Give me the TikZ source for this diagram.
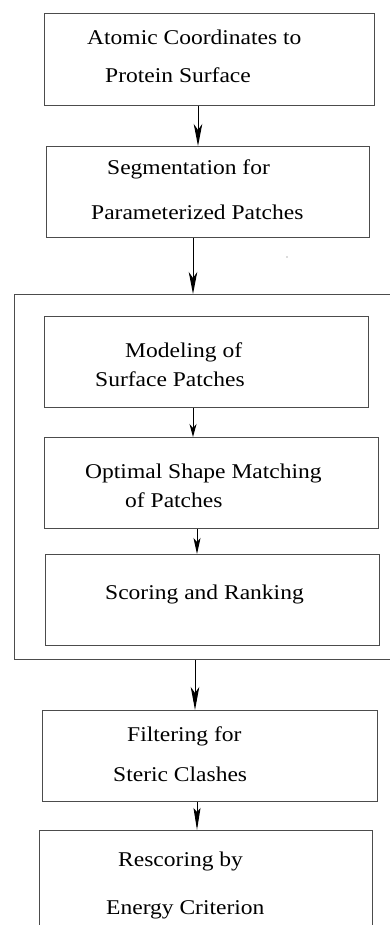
\documentclass[tikz,border=0pt]{standalone}
\usepackage{fontspec}
\setmainfont{Liberation Serif}[FakeStretch=1.12]
\usetikzlibrary{arrows.meta}
\begin{document}
\begin{tikzpicture}[x=1pt,y=-1pt,
  box/.style={draw=black!70,line width=1.1pt,inner sep=0pt,anchor=north west},
  lbl/.style={anchor=base west,inner sep=0pt,font=\fontsize{21}{25}\selectfont},
  arr/.style={draw=black,line width=1pt,-{Stealth[length=#1,width=8.5pt,inset=6pt]}},
  arrs/.style={draw=black,line width=1pt,-{Stealth[length=#1,width=7pt,inset=4pt]}}]
\useasboundingbox (0,0) rectangle (390,925);
% boxes
\node[box,minimum width=330pt,minimum height=92pt] (b1) at (44,13) {};
\node[box,minimum width=323pt,minimum height=91pt] (b2) at (46,146) {};
\node[box,minimum width=381pt,minimum height=365pt] (big) at (14,294) {};
\node[box,minimum width=324pt,minimum height=91pt] (i1) at (44,316) {};
\node[box,minimum width=334pt,minimum height=91pt] (i2) at (44,437) {};
\node[box,minimum width=334pt,minimum height=91pt] (i3) at (45,554) {};
\node[box,minimum width=335pt,minimum height=91pt] (b4) at (42,710) {};
\node[box,minimum width=333pt,minimum height=105pt] (b5) at (39,830) {};
% texts
\node[lbl] (t1a) at (87,44.3) {Atomic Coordinates to};
\node[lbl] (t1b) at (105,82.3) {Protein Surface};
\node[lbl] (t2a) at (107,174.3) {Segmentation for};
\node[lbl] (t2b) at (91,219.3) {Parameterized Patches};
\node[lbl] (t3a) at (125,357.3) {Modeling of};
\node[lbl] (t3b) at (95,386.7) {Surface Patches};
\node[lbl] (t4a) at (85,478.3) {Optimal Shape Matching};
\node[lbl] (t4b) at (125,507.3) {of Patches};
\node[lbl] (t5) at (105,599) {Scoring and Ranking};
\node[lbl] (t6a) at (127,741.7) {Filtering for};
\node[lbl] (t6b) at (113,781.7) {Steric Clashes};
\node[lbl] (t7a) at (118,866.7) {Rescoring by};
\node[lbl] (t7b) at (106,914) {Energy Criterion};
% stray dot
\fill[black!60] (287,257) circle (0.7);
% arrows
\draw[arr=22pt] (b1.south -| 198,0) -- (b2.north -| 198,0);
\draw[arr=22pt] (b2.south -| 193,0) -- (big.north -| 193,0);
\draw[arrs=13pt] (i1.south -| 193,0) -- (i2.north -| 193,0);
\draw[arrs=16pt] (i2.south -| 197,0) -- (i3.north -| 197,0);
\draw[arr=23pt] (big.south -| 195,0) -- (b4.north -| 195,0);
\draw[arrs=22pt] (b4.south -| 197,0) -- (b5.north -| 197,0);
\end{tikzpicture}
\end{document}
